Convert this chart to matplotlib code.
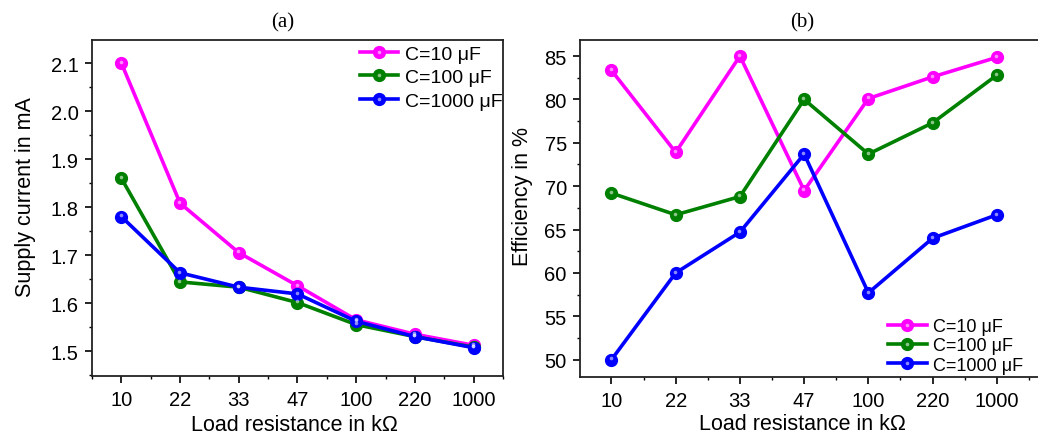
import matplotlib
matplotlib.use("Agg")
import matplotlib.pyplot as plt
from matplotlib.ticker import MultipleLocator, FormatStrFormatter
from matplotlib.legend_handler import HandlerTuple
from matplotlib.transforms import offset_copy

plt.rcParams['font.family'] = ['Liberation Sans', 'DejaVu Sans']

# Load resistance categories (kΩ)
loads = ["10", "22", "33", "47", "100", "220", "1000"]
series_names = ["C=10 μF", "C=100 μF", "C=1000 μF"]
colors = ["#FF00FF", "#008000", "#0000FF"]

# Supply current in mA
current_10uF = [2.10, 1.808, 1.705, 1.636, 1.565, 1.535, 1.512]
current_100uF = [1.86, 1.644, 1.633, 1.601, 1.555, 1.530, 1.508]
current_1000uF = [1.78, 1.663, 1.633, 1.619, 1.562, 1.530, 1.507]

# Efficiency in %
eff_10uF = [83.35, 73.9, 85.0, 69.5, 80.1, 82.6, 84.85]
eff_100uF = [69.2, 66.7, 68.8, 80.0, 73.7, 77.3, 82.8]
eff_1000uF = [50.0, 60.0, 64.7, 73.7, 57.7, 64.0, 66.7]

W, H = 1038, 435
fig = plt.figure(figsize=(W / 100, H / 100), dpi=100)
SERIF = ['Liberation Serif', 'DejaVu Serif']


def px_axes(x0, x1, ytop, ybot):
    return fig.add_axes([x0 / W, (H - ybot) / H, (x1 - x0) / W, (ybot - ytop) / H])


def draw_series(ax, values):
    xs = list(range(len(loads)))
    handles = []
    hl_tr = offset_copy(ax.transData, fig=fig, x=-0.5, y=0.9, units='points')
    for vals, col in zip(values, colors):
        ln, = ax.plot(xs, vals, color=col, lw=2.6, marker='o', ms=8.5,
                      markeredgecolor=col, markerfacecolor=col, zorder=3)
        hl, = ax.plot(xs, vals, ls='none', marker='o', ms=2.6,
                      markeredgecolor='none', markerfacecolor='white',
                      alpha=0.55, transform=hl_tr, zorder=4)
        handles.append((ln, hl))
    return handles


def style_axes(ax):
    ax.set_xticks(range(len(loads)))
    ax.set_xticklabels(loads)
    ax.xaxis.set_minor_locator(MultipleLocator(0.5))
    ax.tick_params(axis='both', which='major', direction='out', length=5,
                   width=1.2, labelsize=14.5, pad=5, top=False, right=False)
    ax.tick_params(axis='y', which='major', pad=4.5)
    ax.tick_params(axis='both', which='minor', direction='out', length=2.5,
                   width=1.0, top=False, right=False)
    for sp in ax.spines.values():
        sp.set_linewidth(1.3)
        sp.set_color('#222222')


def place_labels(ax, xlab, ylab, xl_pos, yl_pos):
    ax.set_xlabel(xlab, fontsize=15.5)
    ax.set_ylabel(ylab, fontsize=15.5)
    ax.xaxis.set_label_coords(*xl_pos)
    ax.xaxis.label.set_va('baseline')
    ax.yaxis.set_label_coords(*yl_pos)
    ax.yaxis.label.set_va('center')


# (a) supply current
ax1 = px_axes(92, 503, 41, 377)
h1 = draw_series(ax1, [current_10uF, current_100uF, current_1000uF])
ax1.set_xlim(-0.5, 6.5)
ax1.set_ylim(1.448, 2.148)
ax1.yaxis.set_major_locator(MultipleLocator(0.1))
ax1.yaxis.set_minor_locator(MultipleLocator(0.05))
ax1.yaxis.set_major_formatter(FormatStrFormatter('%.1f'))
style_axes(ax1)
place_labels(ax1, "Load resistance in kΩ", "Supply current in mA",
             (0.4927, -0.1607), (-0.163, 0.537))
ax1.set_title("(a)", fontsize=15, family=SERIF, x=0.4647, y=1.0417, pad=0)
ax1.legend(h1, series_names, handler_map={tuple: HandlerTuple(ndivide=1)},
           loc='upper left', bbox_to_anchor=(0.652, 0.985), frameon=False,
           fontsize=14, handlelength=1.95, handletextpad=0.35,
           labelspacing=0.3, borderpad=0, borderaxespad=0)

# (b) efficiency
ax2 = px_axes(580, 1045, 41, 378)
h2 = draw_series(ax2, [eff_10uF, eff_100uF, eff_1000uF])
ax2.set_xlim(-0.49, 6.75)
ax2.set_ylim(48.0, 86.85)
ax2.yaxis.set_major_locator(MultipleLocator(5))
ax2.yaxis.set_minor_locator(MultipleLocator(2.5))
style_axes(ax2)
place_labels(ax2, "Load resistance in kΩ", "Efficiency in %",
             (0.4785, -0.1543), (-0.1226, 0.54))
ax2.set_title("(b)", fontsize=15, family=SERIF, x=0.4774, y=1.0415, pad=0)
ax2.legend(h2, series_names, handler_map={tuple: HandlerTuple(ndivide=1)},
           loc='lower left', bbox_to_anchor=(0.662, 0.01), frameon=False,
           fontsize=13, handlelength=2.15, handletextpad=0.35,
           labelspacing=0.12, borderpad=0, borderaxespad=0)

fig.savefig("out.png", dpi=100)
